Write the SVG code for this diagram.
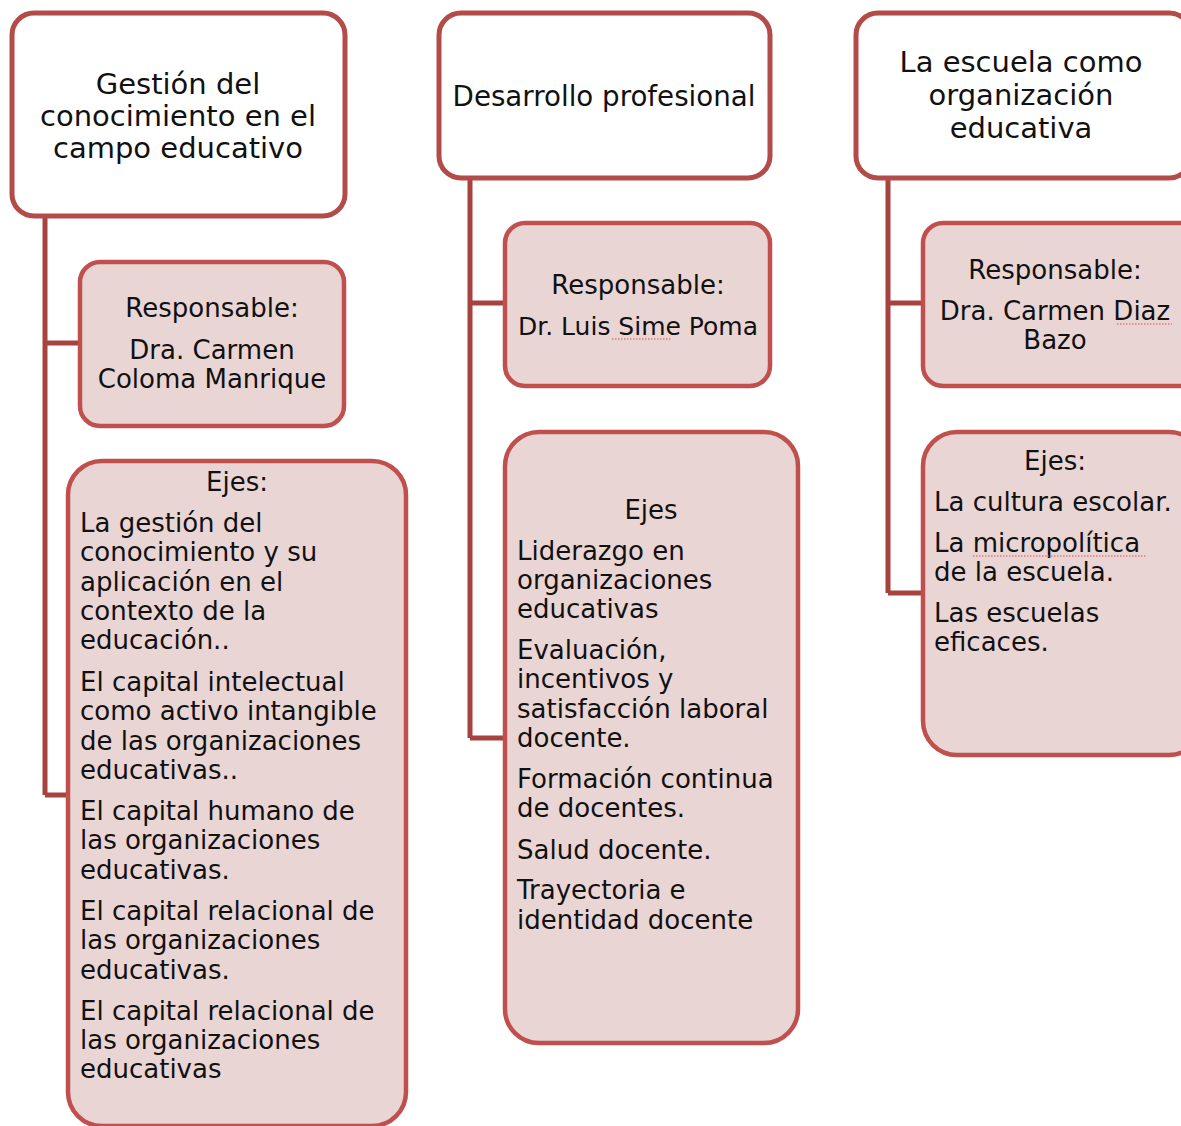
<svg xmlns="http://www.w3.org/2000/svg" width="1181" height="1126" viewBox="0 0 1181 1126">
<style>
.hdr{fill:#ffffff;stroke:#B34C48;stroke-width:5}
.sub{fill:#EAD5D5;stroke:#C0504D;stroke-width:4.5}
.con{fill:none;stroke:#A8423F;stroke-width:5}
text{font-family:"DejaVu Sans","Liberation Sans",sans-serif;fill:#111111}
.h{font-size:29px;text-anchor:middle}
.b{font-size:26px}
.c{text-anchor:middle}
.sq{stroke:#E05050;stroke-width:1.2;stroke-dasharray:1.5 1.5;fill:none}
</style>
<rect width="1181" height="1126" fill="#ffffff"/>
<g id="connectors">
<path class="con" d="M45,218 V795 M45,343 H80 M45,795 H68"/>
<path class="con" d="M470,180 V738 M470,303 H505 M470,738 H505"/>
<path class="con" d="M888,180 V593 M888,303 H923 M888,593 H923"/>
</g>
<g id="header1">
<rect class="hdr" x="12" y="13" width="333" height="203" rx="22"/>
<text class="h" x="178" y="94">Gestión del</text>
<text class="h" x="178" y="126">conocimiento en el</text>
<text class="h" x="178" y="158">campo educativo</text>
</g>
<g id="header2">
<rect class="hdr" x="439" y="13" width="331" height="165" rx="22"/>
<text class="h" x="604" y="106" style="font-size:27.7px">Desarrollo profesional</text>
</g>
<g id="header3">
<rect class="hdr" x="856" y="13" width="335" height="165" rx="22"/>
<text class="h" x="1021" y="72">La escuela como</text>
<text class="h" x="1021" y="105">organización</text>
<text class="h" x="1021" y="138">educativa</text>
</g>
<g id="resp1">
<rect class="sub" x="80" y="262" width="264" height="164" rx="20"/>
<text class="b c" x="212" y="317">Responsable:</text>
<text class="b c" x="212" y="359">Dra. Carmen</text>
<text class="b c" x="212" y="388">Coloma Manrique</text>
</g>
<g id="ejes1">
<rect class="sub" x="68" y="461" width="338" height="665" rx="34"/>
<text class="b c" x="237" y="491">Ejes:</text>
<text class="b" x="80" y="532">La gestión del</text>
<text class="b" x="80" y="561">conocimiento y su</text>
<text class="b" x="80" y="591">aplicación en el</text>
<text class="b" x="80" y="620">contexto de la</text>
<text class="b" x="80" y="649">educación..</text>
<text class="b" x="80" y="691">El capital intelectual</text>
<text class="b" x="80" y="720">como activo intangible</text>
<text class="b" x="80" y="750">de las organizaciones</text>
<text class="b" x="80" y="779">educativas..</text>
<text class="b" x="80" y="820">El capital humano de</text>
<text class="b" x="80" y="849">las organizaciones</text>
<text class="b" x="80" y="879">educativas.</text>
<text class="b" x="80" y="920">El capital relacional de</text>
<text class="b" x="80" y="949">las organizaciones</text>
<text class="b" x="80" y="979">educativas.</text>
<text class="b" x="80" y="1020">El capital relacional de</text>
<text class="b" x="80" y="1049">las organizaciones</text>
<text class="b" x="80" y="1078">educativas</text>
</g>
<g id="resp2">
<rect class="sub" x="505" y="223" width="265" height="163" rx="20"/>
<text class="b c" x="638" y="294">Responsable:</text>
<text class="b c" x="638" y="335" style="font-size:25px">Dr. Luis Sime Poma</text>
<path class="sq" d="M612,339 H672"/>
</g>
<g id="ejes2">
<rect class="sub" x="505" y="432" width="293" height="611" rx="34"/>
<text class="b c" x="651" y="519">Ejes</text>
<text class="b" x="517" y="560">Liderazgo en</text>
<text class="b" x="517" y="589">organizaciones</text>
<text class="b" x="517" y="618">educativas</text>
<text class="b" x="517" y="659">Evaluación,</text>
<text class="b" x="517" y="688">incentivos y</text>
<text class="b" x="517" y="718">satisfacción laboral</text>
<text class="b" x="517" y="747">docente.</text>
<text class="b" x="517" y="788">Formación continua</text>
<text class="b" x="517" y="817">de docentes.</text>
<text class="b" x="517" y="859">Salud docente.</text>
<text class="b" x="517" y="899">Trayectoria e</text>
<text class="b" x="517" y="929">identidad docente</text>
</g>
<g id="resp3">
<rect class="sub" x="923" y="223" width="280" height="163" rx="20"/>
<text class="b c" x="1055" y="279">Responsable:</text>
<text class="b c" x="1055" y="320">Dra. Carmen Diaz</text>
<text class="b c" x="1055" y="349">Bazo</text>
<path class="sq" d="M1117,324 H1172"/>
</g>
<g id="ejes3">
<rect class="sub" x="923" y="432" width="280" height="323" rx="34"/>
<text class="b c" x="1055" y="470">Ejes:</text>
<text class="b" x="934" y="511">La cultura escolar.</text>
<text class="b" x="934" y="552">La micropolítica</text>
<text class="b" x="934" y="581">de la escuela.</text>
<text class="b" x="934" y="622">Las escuelas</text>
<text class="b" x="934" y="651">eficaces.</text>
<path class="sq" d="M973,556 H1146"/>
</g>
</svg>
